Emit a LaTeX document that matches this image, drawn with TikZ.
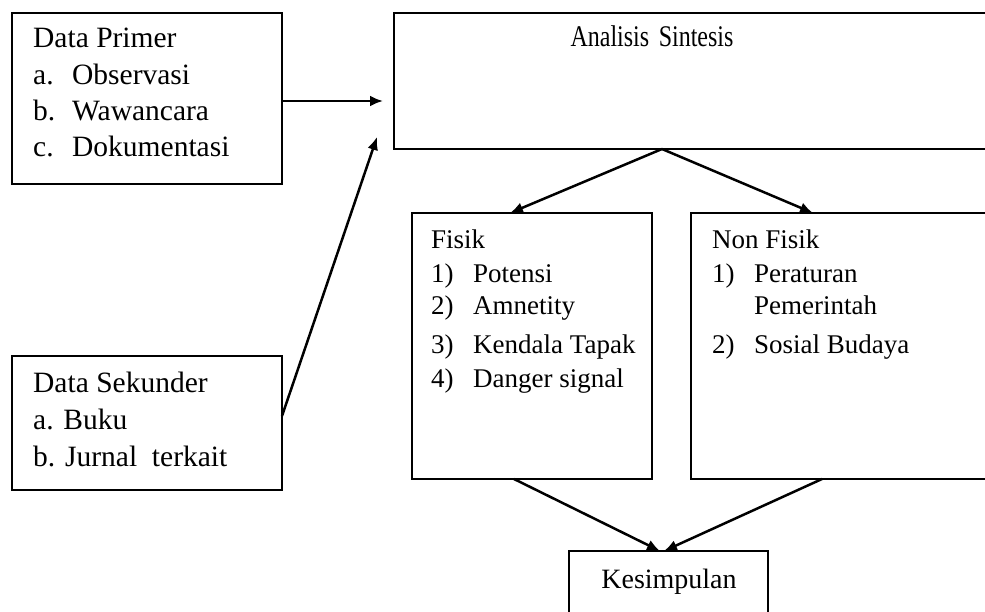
\documentclass[tikz,border=0pt]{standalone}
\usepackage{fontspec}
\usepackage{graphicx}
\setmainfont{Liberation Serif}
\usetikzlibrary{arrows.meta}
\begin{document}
\begin{tikzpicture}[x=1pt,y=-1pt,
  box/.style={draw,line width=2.2pt,rectangle,inner sep=0pt},
  txt/.style={anchor=base west,inner sep=0pt,font=\fontsize{27}{33}\selectfont},
  ltxt/.style={anchor=base west,inner sep=0pt,font=\fontsize{29.5}{35}\selectfont},
  ctxt/.style={anchor=base,inner sep=0pt,font=\fontsize{28}{34}\selectfont},
  arr/.style={line width=2.5pt,-{Latex[length=13pt,width=11pt]}}]
\useasboundingbox (0,0) rectangle (985,612);
\clip (0,0) rectangle (985,612);
\fill[white] (0,0) rectangle (985,612);
% boxes
\node[box,minimum width=270pt,minimum height=171pt] (dp) at (147,98.5) {};
\node[box,minimum width=270pt,minimum height=134pt] (ds) at (147,423) {};
\node[box,minimum width=606pt,minimum height=136pt] (as) at (697,81) {};
\node[box,minimum width=240pt,minimum height=266pt] (fs) at (532,346) {};
\node[box,minimum width=309pt,minimum height=266pt] (nf) at (845.5,346) {};
\node[box,minimum width=199pt,minimum height=80pt] (ks) at (668.5,591) {};
% texts
\node[ltxt] (dp0) at (33,48) {Data Primer};
\node[ltxt] (dp1) at (33,85) {a.};
\node[ltxt] (dp1b) at (72,85) {Observasi};
\node[ltxt] (dp2) at (33,121) {b.};
\node[ltxt] (dp2b) at (72,121) {Wawancara};
\node[ltxt] (dp3) at (33,157) {c.};
\node[ltxt] (dp3b) at (72,157) {Dokumentasi};
\node[ltxt] (ds0) at (33,392) {Data Sekunder};
\node[ltxt] (ds1) at (33,429) {a. Buku};
\node[ltxt] (ds2) at (33,466) {b. Jurnal\ \ terkait};
\node[anchor=base,inner sep=0pt,font=\fontsize{30}{36}\selectfont] (ast) at (652,47) {\scalebox{0.8}[1]{Analisis\hspace{0.4em}Sintesis}};
\node[txt] (fs0) at (431,249) {Fisik};
\node[txt] (fs1) at (431,283) {1)};
\node[txt] (fs1b) at (473,283) {Potensi};
\node[txt] (fs2) at (431,315) {2)};
\node[txt] (fs2b) at (473,315) {Amnetity};
\node[txt] (fs3) at (431,353) {3)};
\node[txt] (fs3b) at (473,353) {Kendala Tapak};
\node[txt] (fs4) at (431,387) {4)};
\node[txt] (fs4b) at (473,387) {Danger signal};
\node[txt] (nf0) at (712,249) {Non Fisik};
\node[txt] (nf1) at (712,283) {1)};
\node[txt] (nf1b) at (754,283) {Peraturan};
\node[txt] (nf1c) at (754,315) {Pemerintah};
\node[txt] (nf2) at (712,353) {2)};
\node[txt] (nf2b) at (754,353) {Sosial Budaya};
\node[ctxt] (kst) at (669,588) {Kesimpulan};
% connector points
\coordinate (dpend) at (383,101);
\coordinate (dpstart) at (282,101);
\coordinate (dsstart) at (282,416);
\coordinate (dsend) at (377,137);
\coordinate (asout) at (662,149);
\coordinate (fsin) at (510,213);
\coordinate (nfin) at (813,213);
\coordinate (fsout) at (514,479);
\coordinate (nfout) at (822,479);
\coordinate (ksin1) at (660,551);
\coordinate (ksin2) at (664,551);
% connectors
\draw[arr] (dpstart) -- (dpend);
\draw[arr] (dsstart) -- (dsend);
\draw[arr] (asout) -- (fsin);
\draw[arr] (asout) -- (nfin);
\draw[arr] (fsout) -- (ksin1);
\draw[arr] (nfout) -- (ksin2);
\end{tikzpicture}
\end{document}
